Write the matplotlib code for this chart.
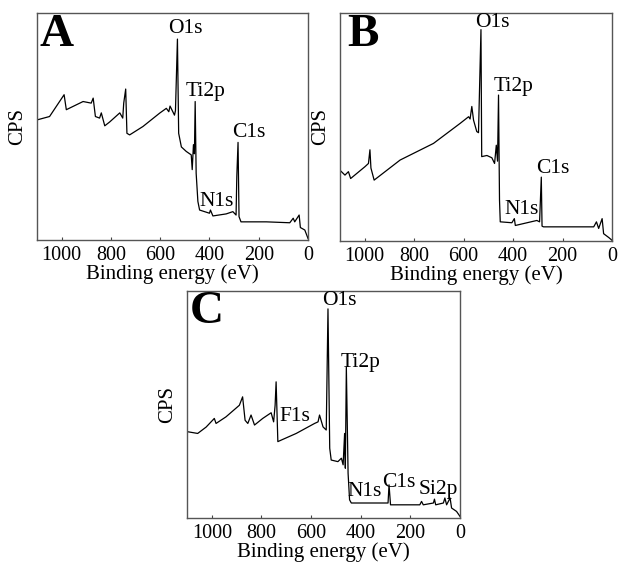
import matplotlib.pyplot as plt

plt.rcParams['font.family'] = ['Liberation Serif', 'DejaVu Serif']

# spectrum A: binding energy (eV) and counts (arb. units)
eA = [1100, 1049, 990, 981, 913, 880, 872, 863, 846, 839, 825, 805, 764, 752, 748, 740, 735, 724,
      670, 602, 575, 565, 560, 542, 538, 530, 525, 514, 494, 474, 470, 465, 461, 458, 454, 447,
      440, 400, 396, 386, 332, 305, 292, 289, 284, 280, 272, 169, 74, 60, 54, 36, 31, 13, 0]
iA = [52.9, 54.4, 64.0, 57.4, 61.0, 60.3, 62.5, 54.4, 53.7, 56.0, 50.3, 52.0, 56.0, 53.7, 60.3, 66.5, 47.0, 46.3,
      50.0, 55.9, 58.0, 56.5, 59.0, 55.0, 57.0, 88.5, 47.0, 41.0, 39.0, 37.5, 31.0, 42.0, 38.0, 61.0, 29.4, 17.0,
      13.2, 11.8, 13.2, 10.6, 11.5, 12.5, 11.0, 28.0, 43.0, 10.3, 8.0, 8.0, 7.6, 9.6, 8.0, 11.0, 5.5, 4.4, 0.7]

# spectrum B
eB = [1100, 1080, 1066, 1057, 999, 985, 979, 975, 962, 857, 722, 614, 580, 574, 567, 560, 547, 540,
      530, 527, 506, 486, 475, 468, 463, 459, 455, 452, 405, 395, 391, 304, 293, 286, 283, 277,
      74, 63, 54, 40, 34, 13, 0]
iB = [31.0, 28.9, 30.4, 27.4, 32.6, 34.0, 40.0, 32.0, 26.7, 35.5, 42.8, 51.6, 54.5, 53.5, 59.0, 53.0, 48.0, 47.5,
      92.7, 37.0, 37.5, 36.5, 34.0, 42.0, 35.0, 64.0, 17.9, 8.4, 8.0, 9.8, 6.8, 9.0, 8.4, 28.0, 6.5, 6.2,
      6.2, 8.4, 5.5, 9.8, 3.2, 1.5, 0.3]

# spectrum C
eC = [1100, 1057, 1023, 990, 983, 943, 889, 876, 866, 855, 842, 828, 795, 761, 751, 745, 741, 734,
      720, 660, 586, 572, 566, 552, 539, 532, 525, 519, 492, 478, 471, 465, 462, 458, 451, 445,
      438, 290, 286, 280, 162, 155, 148, 107, 103, 98, 67, 61, 54, 40, 34, 14, 0]
iC = [38.0, 37.2, 40.0, 43.8, 41.6, 44.5, 49.6, 53.3, 43.0, 41.6, 45.3, 40.9, 43.8, 46.3, 42.3, 49.6, 59.9, 33.6,
      34.3, 37.2, 41.6, 42.3, 45.3, 40.1, 38.7, 92.0, 30.7, 25.5, 24.8, 26.3, 23.4, 37.2, 21.9, 66.4, 19.7, 8.0,
      6.6, 6.6, 14.6, 5.8, 5.8, 7.3, 5.8, 6.6, 8.3, 5.8, 6.6, 8.8, 5.8, 8.8, 4.4, 2.9, 0.7]

# peak labels: (text, energy, height)
labA = [("O1s", 498, 93.0), ("Ti2p", 417, 65.4), ("C1s", 239, 47.4), ("N1s", 371, 17.0)]
labB = [("O1s", 482, 95.9), ("Ti2p", 398, 67.7), ("C1s", 240, 31.8), ("N1s", 367, 13.8)]
labC = [("O1s", 485, 95.6), ("Ti2p", 400, 68.6), ("F1s", 666, 44.5), ("C1s", 245, 15.6),
        ("N1s", 384, 11.7), ("Si2p", 88, 12.4)]

fig = plt.figure(figsize=(6.24, 5.72), dpi=100)
boxes = [[0.0593, 0.5804, 0.4343, 0.3969],
         [0.5449, 0.5787, 0.4359, 0.3986],
         [0.2997, 0.0944, 0.4375, 0.3974]]
letter_x = [0.011, 0.025, 0.011]
panels = [("A", eA, iA, labA), ("B", eB, iB, labB), ("C", eC, iC, labC)]

for box, lx, (letter, e, inten, labs) in zip(boxes, letter_x, panels):
    ax = fig.add_axes(box)
    ax.plot(e, inten, color='black', lw=0.9)
    ax.set_xlim(1100, 0)
    ax.set_ylim(0, 100)
    ax.set_xticks([1000, 800, 600, 400, 200, 0])
    ax.set_yticks([])
    ax.tick_params(axis='x', direction='in', length=2.5, width=0.8, labelsize=14.5, pad=4, color='#444')
    for s in ax.spines.values():
        s.set_color('#555')
        s.set_linewidth(1.0)
    ax.set_xlabel("Binding energy (eV)", fontsize=15, labelpad=0)
    ax.set_ylabel("CPS", fontsize=15, labelpad=7)
    ax.text(lx, 0.905, letter, transform=ax.transAxes, fontsize=34, fontweight='bold',
            ha='left', va='center')
    for t, x, y in labs:
        ax.text(x, y, t, fontsize=15.5, ha='center', va='center')

fig.savefig("out.png", dpi=100)
